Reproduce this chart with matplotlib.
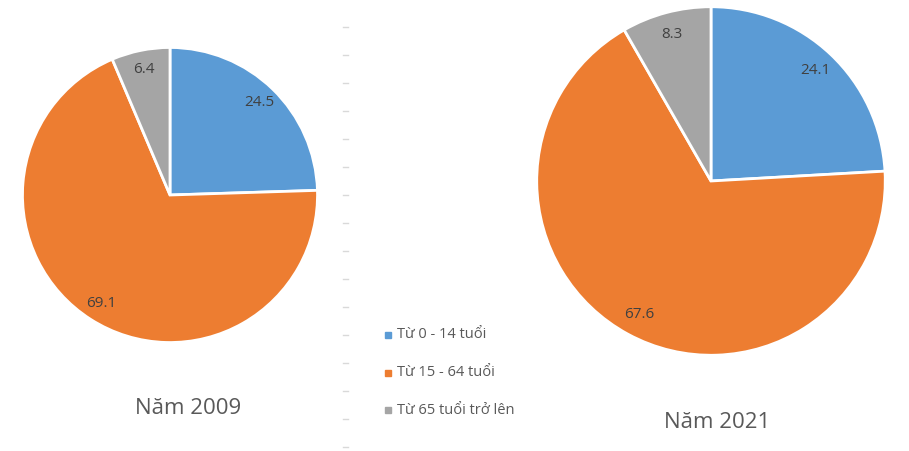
import matplotlib.pyplot as plt
from matplotlib.lines import Line2D

plt.rcParams['font.family'] = ['Open Sans', 'DejaVu Sans']

groups = ["Từ 0 - 14 tuổi", "Từ 15 - 64 tuổi", "Từ 65 tuổi trở lên"]
colors = ["#5B9BD5", "#ED7D31", "#A5A5A5"]
vals_2009 = [24.5, 69.1, 6.4]
vals_2021 = [24.1, 67.6, 8.3]
titles = ["Năm 2009", "Năm 2021"]

W, H = 909, 451
fig = plt.figure(figsize=(W / 100, H / 100), dpi=100)


def px_axes(cx, cy, r):
    return fig.add_axes([(cx - r) / W, (H - cy - r) / H, 2 * r / W, 2 * r / H])


def draw_pie(ax, vals):
    wedges, texts, autotexts = ax.pie(
        vals, colors=colors, startangle=90, counterclock=False,
        autopct=lambda p: f"{p:.1f}", pctdistance=0.87,
        wedgeprops=dict(edgecolor="white", linewidth=2),
        textprops=dict(color="#404040", fontsize=11))
    ax.set_xlim(-1.01, 1.01)
    ax.set_ylim(-1.01, 1.01)
    ax.axis("off")


ax1 = px_axes(170, 195, 149)
draw_pie(ax1, vals_2009)
ax2 = px_axes(711, 181, 176)
draw_pie(ax2, vals_2021)

fig.text(188 / W, 1 - 408 / H, titles[0], ha="center", va="center",
         fontsize=16, color="#595959")
fig.text(717 / W, 1 - 423 / H, titles[1], ha="center", va="center",
         fontsize=16, color="#595959")

# faint tick marks of the hidden axis in the middle
for i in range(16):
    y = 27 + 28 * i
    fig.add_artist(Line2D([343 / W, 348 / W], [1 - y / H, 1 - y / H],
                          color="#D9D9D9", lw=1))

# legend
for i, (g, c) in enumerate(zip(groups, colors)):
    y = 1 - (335 + 37.5 * i) / H
    fig.add_artist(Line2D([388 / W], [y], marker="s", markersize=5,
                          color=c, linestyle="none"))
    fig.text(397 / W, y, g, ha="left", va="center", fontsize=10.5,
             color="#595959")

fig.savefig("out.png", dpi=100)
